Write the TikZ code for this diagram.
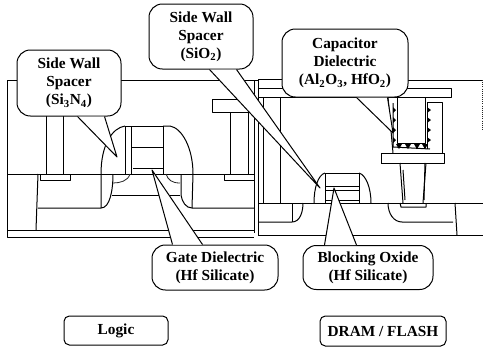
\documentclass[tikz,border=0pt]{standalone}
\usepackage{fontspec}
\setmainfont{Liberation Serif}
\usetikzlibrary{calc}
\tikzset{
  wall/.style={line width=0.75pt,black,line join=round},
  thin wall/.style={line width=0.6pt,black!85},
  callout/.style={draw=black,line width=0.75pt,fill=white,rounded corners=10pt,inner sep=0pt,align=center,
    font=\bfseries\fontsize{11.5}{13.5}\selectfont},
  tagbox/.style={callout,rounded corners=4pt}
}
\newcommand{\tailshape}[4]{%
  \fill[white] ($(#1)+(#2,0)$) -- (#4) -- ($(#1)+(#3,0)$) -- cycle;
  \draw[wall] ($(#1)+(#2,0)$) -- (#4) -- ($(#1)+(#3,0)$);}
\begin{document}
\begin{tikzpicture}[x=0.75pt,y=-0.75pt]
\useasboundingbox (0,0) rectangle (483,347);
\fill[white] (0,0) rectangle (483,347);
% --- logic device
\draw[wall] (7,80) -- (258,80);
\draw[wall] (7,80) -- (7,237) -- (254,237);
\draw[wall] (7,230) -- (254,230);
\draw[wall] (7,174) -- (254,174);
\draw[wall] (254,80) -- (254,233);
\draw[wall] (38,174) -- (36,230);
\draw[wall] (38,208) -- (101,208) .. controls (110,208) and (113,190) .. (113,174);
\draw[wall] (112,195) -- (180,195);
\draw[thin wall] (113,183) .. controls (120,183) and (128,181) .. (130,174);
\draw[thin wall] (180,183) .. controls (172,183) and (168,180) .. (166,174);
\draw[wall] (181,174) -- (181,195) .. controls (182,202) and (186,208) .. (192,208) -- (254,208);
% contacts
\draw[wall] (46,116) -- (46,174) (63,116) -- (63,174);
\draw[wall] (40,174) -- (40,180) -- (70,180) -- (70,174);
\draw[wall] (230,112) -- (230,174) (248,112) -- (248,174);
\draw[wall] (224,174) -- (224,180) -- (254,180);
\draw[wall] (212,99) -- (212,112) -- (254,112);
\draw[wall] (212,99) -- (254,99);
% gate
\draw[wall] (125,126) -- (163,126) (125,126) -- (125,174) (131,126) -- (131,174) (163,126) -- (163,174);
\draw[wall] (131,147) -- (163,147);
\draw[wall] (133,168) -- (163,168);
\draw[wall] (125,126) .. controls (112,128) and (101,145) .. (101,174) -- (101,208);
\draw[wall] (163,126) -- (170,126) .. controls (182,128) and (193,148) .. (193,174) -- (192,208);
% --- memory device
\draw[wall] (258,79) -- (258,235);
\draw[wall] (258,79) -- (282,79);
\draw[wall] (258,88) -- (451,88) -- (451,97) -- (258,97) -- (258,88);
\draw[wall] (263,97) -- (263,203) (280,97) -- (280,203);
\draw[wall] (408,80) -- (483,80);
\draw[densely dotted,thin wall] (482,80) -- (482,130);
\draw[wall] (258,203) -- (483,203);
\draw[wall] (258,222) -- (292,222) .. controls (300,222) and (303,212) .. (303,203);
\draw[wall] (292,203) -- (292,222);
\draw[wall] (258,235) -- (483,235);
\draw[wall] (388,203) .. controls (388,214) and (394,222) .. (402,222) -- (453,222);
\draw[wall] (455,203) -- (457,235);
% memory gate
\draw[wall] (325,173) -- (359,173) (325,173) -- (325,203) (359,173) -- (359,203);
\draw[wall] (325,186) -- (359,186) (325,190) -- (359,190) (325,200) -- (359,200);
\draw[wall] (314,203) .. controls (314,188) and (318,175) .. (325,173);
\draw[wall] (359,173) .. controls (366,175) and (371,188) .. (371,203);
% capacitor
\draw[wall] (381,153) -- (444,153) (381,163) -- (444,163) -- (444,153) (381,153) -- (381,163);
\draw[wall] (397,97) -- (397,143) -- (425,143) -- (425,97);
\draw[wall] (388,97) -- (393,153);
\draw[wall] (427,102) -- (442,102) -- (442,153);
\draw[wall] (393,103) -- (393,147) -- (430,149);
\draw[wall] (427,102) -- (427,149);
\foreach \yy in {110,120,130,140} {
  \fill[black] (427,\yy-3) -- (431,\yy) -- (427,\yy+3) -- cycle;
  \fill[black] (393,\yy-3) -- (396,\yy) -- (393,\yy+3) -- cycle;
}
\foreach \xx in {399,408,417,425} {
  \fill[black] (\xx-3,144) -- (\xx+3,144) -- (\xx,149) -- cycle;
}
% plug
\draw[wall] (400,163) -- (403,203) (426,163) -- (423,203);
\draw[wall] (403,170) -- (405,200) (425,163) -- (424,200);
\draw[wall] (400,203) -- (401,207) -- (426,207) -- (426,203);
% --- callouts
\coordinate (tipA) at (117,157);
\coordinate (tipB) at (320,188);
\coordinate (tipC) at (393,133);
\coordinate (tipD) at (152,170);
\coordinate (tipE) at (334,188);
\node[callout,minimum width=78pt,minimum height=49.5pt] (spacerN) at (69,83)
  {Side Wall\\Spacer\\(Si\textsubscript{3}N\textsubscript{4})};
\tailshape{spacerN.south west}{61}{88}{tipA}
\node[callout,minimum width=78pt,minimum height=48.75pt] (spacerO) at (201,36.5)
  {Side Wall\\Spacer\\(SiO\textsubscript{2})};
\tailshape{spacerO.south west}{61}{88}{tipB}
\node[callout,minimum width=94.5pt,minimum height=51pt] (capdiel) at (345,63)
  {Capacitor\\Dielectric\\(Al\textsubscript{2}O\textsubscript{3}, HfO\textsubscript{2})};
\tailshape{capdiel.south west}{75}{106}{tipC}
\node[callout,minimum width=94.5pt,minimum height=33.75pt] (gatediel) at (215,267.5)
  {Gate Dielectric\\(Hf Silicate)};
\tailshape{gatediel.north west}{21}{51}{tipD}
\node[callout,minimum width=97.5pt,minimum height=33pt] (blockox) at (368,267.5)
  {Blocking Oxide\\(Hf Silicate)};
\tailshape{blockox.north west}{22}{54}{tipE}
\node[tagbox,minimum width=78pt,minimum height=21.75pt] (logic) at (116,330.5) {Logic};
\node[tagbox,minimum width=94.5pt,minimum height=22.5pt] (dram) at (383,331) {DRAM / FLASH};
\end{tikzpicture}
\end{document}
